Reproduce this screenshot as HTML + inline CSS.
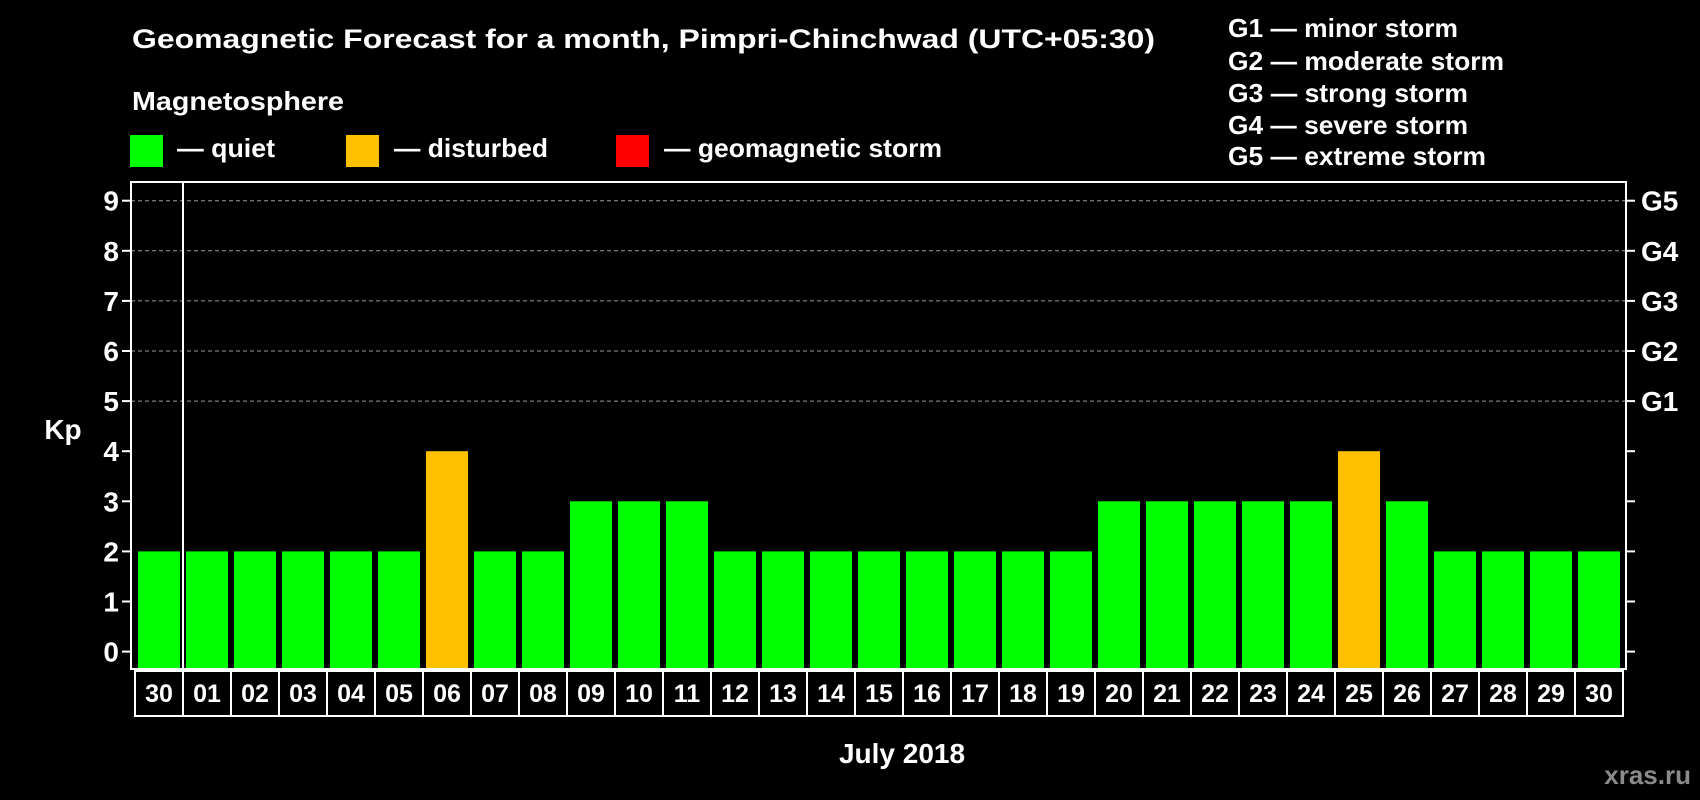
<!DOCTYPE html>
<html><head><meta charset="utf-8"><style>
html,body{margin:0;padding:0;background:#000;width:1700px;height:800px;overflow:hidden}
svg text{font-family:"Liberation Sans",sans-serif;font-weight:bold;fill:#fff}
</style></head><body>
<svg id="chart" width="1700" height="800" xmlns="http://www.w3.org/2000/svg">
<text x="132" y="48" font-size="27" textLength="1023" lengthAdjust="spacingAndGlyphs">Geomagnetic Forecast for a month, Pimpri-Chinchwad (UTC+05:30)</text>
<text x="132" y="110" font-size="26" textLength="212" lengthAdjust="spacingAndGlyphs">Magnetosphere</text>
<rect x="130" y="135" width="33" height="32" fill="#00ff00"/>
<text x="177" y="157" font-size="26" textLength="98" lengthAdjust="spacingAndGlyphs">— quiet</text>
<rect x="346" y="135" width="33" height="32" fill="#ffc000"/>
<text x="394" y="157" font-size="26" textLength="154" lengthAdjust="spacingAndGlyphs">— disturbed</text>
<rect x="616" y="135" width="33" height="32" fill="#ff0000"/>
<text x="664" y="157" font-size="26" textLength="278" lengthAdjust="spacingAndGlyphs">— geomagnetic storm</text>
<g font-size="26">
<text x="1228" y="37" textLength="230" lengthAdjust="spacingAndGlyphs">G1 — minor storm</text>
<text x="1228" y="70" textLength="276" lengthAdjust="spacingAndGlyphs">G2 — moderate storm</text>
<text x="1228" y="102" textLength="240" lengthAdjust="spacingAndGlyphs">G3 — strong storm</text>
<text x="1228" y="134" textLength="240" lengthAdjust="spacingAndGlyphs">G4 — severe storm</text>
<text x="1228" y="165" textLength="258" lengthAdjust="spacingAndGlyphs">G5 — extreme storm</text>
</g>
<text x="63" y="439" font-size="28" text-anchor="middle">Kp</text>
<text x="902" y="763" font-size="28" text-anchor="middle">July 2018</text>
<text x="1691" y="784" font-size="26" text-anchor="end" style="fill:#8a8a8a">xras.ru</text>
<g id="plot"></g>
</svg>
<script>
const categories=["30","01","02","03","04","05","06","07","08","09","10","11","12","13","14","15","16","17","18","19","20","21","22","23","24","25","26","27","28","29","30"];
const kpValues=[2,2,2,2,2,2,4,2,2,3,3,3,2,2,2,2,2,2,2,2,3,3,3,3,3,4,3,2,2,2,2];
const yTicks=[0,1,2,3,4,5,6,7,8,9];
const gLabels=["G1","G2","G3","G4","G5"];
const gLevels=[5,6,7,8,9];
const NS="http://www.w3.org/2000/svg";
const g=document.getElementById('plot');
const L=131,R=1626,T=182,B=669,x0=135,slot=48;
const y=v=>651.6-v*50.1;
const x=i=>x0+i*slot;
function mk(t,a){const e=document.createElementNS(NS,t);for(const k in a)e.setAttribute(k,a[k]);g.appendChild(e);return e;}
yTicks.forEach(v=>{
  if(v>=5){const l=mk('line',{x1:L,x2:R,y1:y(v),y2:y(v),stroke:'#999','stroke-width':1,'stroke-dasharray':'4,3'});
  
  }
  const t1=mk('line',{x1:L-9,x2:L,y1:y(v),y2:y(v),stroke:'#fff','stroke-width':2});
  
  
  const t2=mk('line',{x1:R,x2:R+9,y1:y(v),y2:y(v),stroke:'#fff','stroke-width':2});
  
  
  const tx=mk('text',{x:119,y:y(v)+10,'font-size':28,'text-anchor':'end'});tx.textContent=v;
  
  
});
gLevels.forEach((v,i)=>{
  const tx=mk('text',{x:1641,y:y(v)+10,'font-size':28});tx.textContent=gLabels[i];
  
  
});
kpValues.forEach((v,i)=>{
  const c=v>=5?'#ff0000':(v>=4?'#ffc000':'#00ff00');
  const r=mk('rect',{x:x(i)+3,y:y(v),width:42,height:B-1-y(v),fill:c});
  
  
  const b=mk('rect',{x:x(i),y:671,width:slot,height:45,fill:'none',stroke:'#fff','stroke-width':2});
  
  
  const t=mk('text',{x:x(i)+slot/2,y:702,'font-size':25,'text-anchor':'middle'});t.textContent=categories[i];
  
  
});
const fr=mk('rect',{x:L,y:T,width:R-L,height:B-T,fill:'none',stroke:'#fff','stroke-width':2});


const sep=mk('line',{x1:x(1),x2:x(1),y1:T,y2:B,stroke:'#fff','stroke-width':2});


</script>
</body></html>
